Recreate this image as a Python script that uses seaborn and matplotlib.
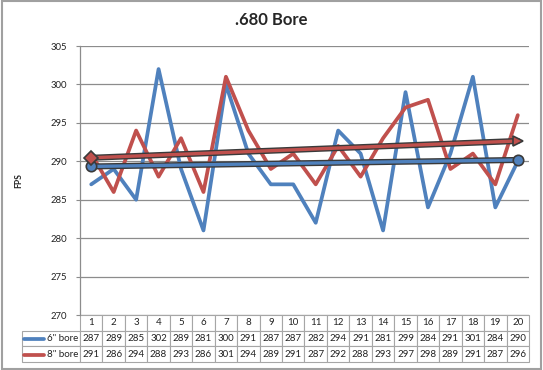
import numpy as np
import pandas as pd
import matplotlib
matplotlib.use("Agg")
import matplotlib.pyplot as plt
import matplotlib.patheffects as pe
from matplotlib.patches import Rectangle
import seaborn as sns

# Chart data
shots = list(range(1, 21))
bore_6 = [287, 289, 285, 302, 289, 281, 300, 291, 287, 287,
          282, 294, 291, 281, 299, 284, 291, 301, 284, 290]
bore_8 = [291, 286, 294, 288, 293, 286, 301, 294, 289, 291,
          287, 292, 288, 293, 297, 298, 289, 291, 287, 296]
series_names = ['6" bore', '8" bore']
y_ticks = [270, 275, 280, 285, 290, 295, 300, 305]

sns.set_style("white")
plt.rcParams["font.family"] = ["Lato", "DejaVu Sans"]

blue = "#4F81BD"
red = "#C0504D"
grey = "#8c8c8c"
outline = "#3a3a3a"

df = pd.DataFrame({
    "Shot": shots * 2,
    "FPS": bore_6 + bore_8,
    "Bore": [series_names[0]] * len(shots) + [series_names[1]] * len(shots),
})

fig = plt.figure(figsize=(5.43, 3.70), dpi=100)
ax = fig.add_axes([80 / 543, 55 / 370, 449 / 543, 269 / 370])

sns.lineplot(data=df, x="Shot", y="FPS", hue="Bore", palette=[blue, red],
             linewidth=2.7, legend=False, ax=ax, zorder=3)

# Linear trend lines with end markers
for vals, color, m_start, m_end, ms in [(bore_6, blue, "o", "o", 7.5),
                                        (bore_8, red, "D", ">", 7)]:
    slope, icpt = np.polyfit(shots, vals, 1)
    ends = [shots[0], shots[-1]]
    fit = [icpt + slope * x for x in ends]
    ax.plot(ends, fit, color=color, lw=2.4, zorder=5,
            path_effects=[pe.Stroke(linewidth=4.4, foreground=outline), pe.Normal()])
    ax.plot(ends[:1], fit[:1], marker=m_start, ms=ms, color=color,
            mec=outline, mew=1.2, zorder=6, clip_on=False)
    ax.plot(ends[1:], fit[1:], marker=m_end, ms=ms, color=color,
            mec=outline, mew=1.2, zorder=6, clip_on=False)

ax.set_xlim(0.5, 20.5)
ax.set_ylim(270, 305)
ax.set_yticks(y_ticks)
ax.set_xticks([])
ax.set_xlabel("")
ax.yaxis.grid(True, color=grey, lw=0.9)
ax.set_axisbelow(True)
for side in ["top", "right", "bottom"]:
    ax.spines[side].set_visible(False)
ax.spines["left"].set_color(grey)
ax.spines["left"].set_linewidth(0.9)
ax.tick_params(axis="y", left=True, length=3, width=0.8, color=grey,
               labelsize=6.8, pad=6, labelcolor="#222222")

ax.set_ylabel("FPS", fontsize=6.2, fontweight="bold")
ax.yaxis.set_label_coords((23 - 80) / 449, 0.5)

title = ax.set_title(".680 Bore", fontsize=12, fontweight="bold", pad=15)
title.set_x((271 - 80) / 449)

# Data table below the chart
cells = [[""] + [str(s) for s in shots],
         [series_names[0]] + [str(v) for v in bore_6],
         [series_names[1]] + [str(v) for v in bore_8]]
x0 = (22 - 80) / 449
tbl = ax.table(cellText=cells, cellLoc="center",
               colWidths=[58 / 449] + [1 / 20] * 20,
               bbox=[x0, -47 / 269, 1 - x0, 47 / 269])
tbl.auto_set_font_size(False)
tbl.set_fontsize(7)
for (r, c), cell in tbl.get_celld().items():
    cell.set_edgecolor("#a6a6a6")
    cell.set_linewidth(0.8)
    cell.get_text().set_color("#222222")
    if c == 0:
        cell._loc = "right"
        cell.PAD = 0.025
        cell.get_text().set_ha("right")
tbl[0, 0].visible_edges = "open"

# Legend keys inside the table
for color, yk in [(blue, (315 - 339) / 269), (red, (315 - 354.5) / 269)]:
    ax.plot([(24 - 80) / 449, (44 - 80) / 449], [yk, yk], transform=ax.transAxes,
            clip_on=False, color=color, lw=2.7, solid_capstyle="round")

# Chart border
fig.patches.append(Rectangle((2 / 543, 1 / 370), 539 / 543, 368 / 370,
                             transform=fig.transFigure, fill=False,
                             edgecolor="#a0a0a0", lw=1.5))

fig.savefig("out.png", dpi=100)
